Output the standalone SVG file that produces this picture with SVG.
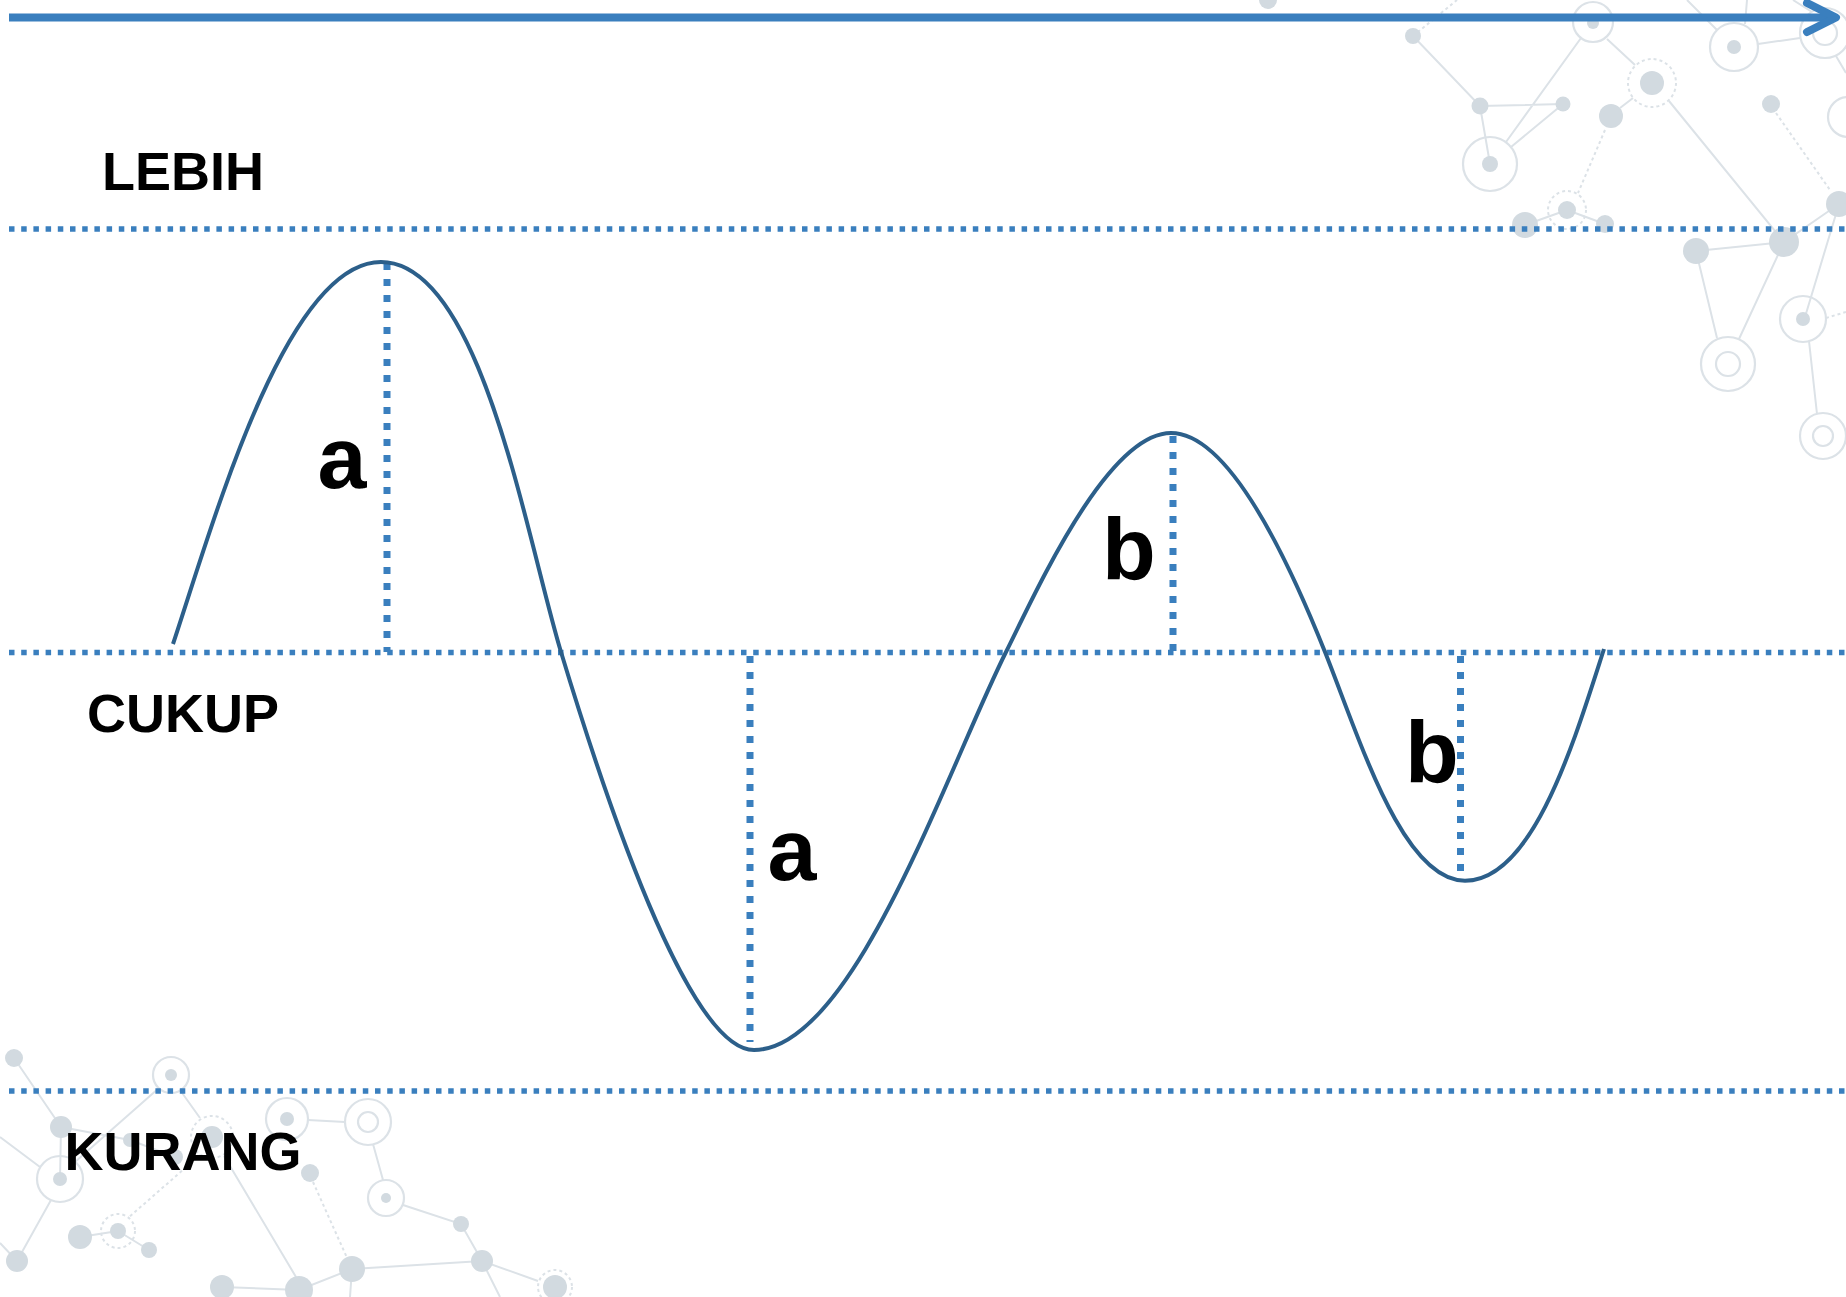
<svg xmlns="http://www.w3.org/2000/svg" width="1846" height="1297" viewBox="0 0 1846 1297">
<style>
.bgl{stroke:#DCE2E7;stroke-width:2;fill:none}
.bgd{stroke:#DCE2E7;stroke-width:2;fill:none;stroke-dasharray:3 3}
.bgf{fill:#D2DAE0}
.bgr{fill:none;stroke:#DCE2E7;stroke-width:2.2}
.bgrd{fill:none;stroke:#DCE2E7;stroke-width:2;stroke-dasharray:3 3}
.hdot{stroke:#3A7FBE;stroke-width:5.5;stroke-dasharray:5.5 6.7;fill:none}
.vdot{stroke:#3A7FBE;stroke-width:7;stroke-dasharray:7 9;fill:none}
.wave{stroke:#2C5F8A;stroke-width:4;fill:none}
.lvl{font-family:"Liberation Sans",Arial,sans-serif;font-weight:bold;font-size:54px;fill:#000;text-anchor:middle}
.mk{font-family:"Liberation Sans",Arial,sans-serif;font-weight:bold;font-size:88px;fill:#000;text-anchor:middle}
.arrow{stroke:#3A7FBE;stroke-width:8;fill:none}
</style>
<defs>
<marker id="chev" markerUnits="userSpaceOnUse" viewBox="0 0 50 50" markerWidth="50" markerHeight="50" refX="40" refY="25" orient="auto">
<path d="M11 10.5 L40 25 L11 39.5" fill="none" stroke="#3A7FBE" stroke-width="8" stroke-linecap="round" stroke-linejoin="round"/>
</marker>
</defs>
<rect width="1846" height="1297" fill="#fff"/>
<g id="background">
<g id="net-top-right">
<path class="bgd" d="M1413 36 L1457 0 M1605 130 L1578 193 M1776 113 L1830 190 M1826 318 L1846 312"/>
<path class="bgl" d="M1413 36 L1480 106 L1563 104 M1480 106 L1490 164 M1563 104 L1511 147 M1506 142 L1581 38 M1607 39 L1635 65 M1633 98 L1620 108 M1567 210 L1525 225 M1567 210 L1605 224 M1669 101 L1784 242 M1758 44 L1800 38 M1839 204 L1784 242 L1696 251 M1836 56 L1846 73 M1696 251 L1717 338 M1784 242 L1739 339 M1839 204 L1805 317 M1809 341 L1817 414 M1687 0 L1717 30 M1747 0 L1745 24 M1793 0 L1812 12"/>
<circle class="bgf" cx="1268" cy="0" r="9"/>
<circle class="bgf" cx="1413" cy="36" r="8"/>
<circle class="bgf" cx="1480" cy="106" r="8.5"/>
<circle class="bgf" cx="1563" cy="104" r="7.5"/>
<circle class="bgf" cx="1611" cy="116" r="12"/>
<circle class="bgf" cx="1525" cy="225" r="13"/>
<circle class="bgf" cx="1605" cy="224" r="9"/>
<circle class="bgf" cx="1771" cy="104" r="9"/>
<circle class="bgf" cx="1839" cy="204" r="13"/>
<circle class="bgf" cx="1784" cy="242" r="15"/>
<circle class="bgf" cx="1696" cy="251" r="13"/>
<circle class="bgr" cx="1490" cy="164" r="27"/><circle class="bgf" cx="1490" cy="164" r="8"/>
<circle class="bgr" cx="1593" cy="22" r="20"/><circle class="bgf" cx="1593" cy="23" r="6"/>
<circle class="bgrd" cx="1652" cy="83" r="24"/><circle class="bgf" cx="1652" cy="83" r="12"/>
<circle class="bgrd" cx="1567" cy="210" r="19"/><circle class="bgf" cx="1567" cy="210" r="9"/>
<circle class="bgr" cx="1734" cy="47" r="24"/><circle class="bgf" cx="1734" cy="47" r="7"/>
<circle class="bgr" cx="1825" cy="33" r="25"/><circle class="bgr" cx="1825" cy="33" r="12"/>
<circle class="bgr" cx="1728" cy="364" r="27"/><circle class="bgr" cx="1728" cy="364" r="12"/>
<circle class="bgr" cx="1803" cy="319" r="23"/><circle class="bgf" cx="1803" cy="319" r="7"/>
<circle class="bgr" cx="1823" cy="436" r="23"/><circle class="bgr" cx="1823" cy="436" r="10"/>
<circle class="bgr" cx="1848" cy="117" r="20"/>
</g>
<g id="net-bottom-left">
<path class="bgd" d="M200 1155 L128 1218 M313 1182 L348 1260"/>
<path class="bgl" d="M14 1058 L61 1127 L60 1179 M0 1137 L40 1167 M51 1200 L17 1261 M0 1243 L17 1261 M75 1162 L159 1088 M61 1127 L130 1140 L175 1157 M180 1090 L200 1118 M224 1156 L296 1277 M118 1231 L80 1237 M118 1231 L149 1250 M308 1120 L345 1122 M373 1144 L383 1180 M403 1205 L461 1224 L482 1261 M352 1269 L482 1261 L538 1281 M482 1261 L500 1297 M352 1269 L299 1290 L222 1287 M299 1290 L296 1297 M352 1269 L350 1297"/>
<circle class="bgf" cx="14" cy="1058" r="9"/>
<circle class="bgf" cx="61" cy="1127" r="11"/>
<circle class="bgf" cx="130" cy="1140" r="7"/>
<circle class="bgf" cx="175" cy="1157" r="8"/>
<circle class="bgf" cx="310" cy="1173" r="9"/>
<circle class="bgf" cx="461" cy="1224" r="8"/>
<circle class="bgf" cx="482" cy="1261" r="11"/>
<circle class="bgf" cx="352" cy="1269" r="13"/>
<circle class="bgf" cx="222" cy="1287" r="12"/>
<circle class="bgf" cx="299" cy="1290" r="14"/>
<circle class="bgf" cx="80" cy="1237" r="12"/>
<circle class="bgf" cx="149" cy="1250" r="8"/>
<circle class="bgf" cx="17" cy="1261" r="11"/>
<circle class="bgr" cx="60" cy="1179" r="23"/><circle class="bgf" cx="60" cy="1179" r="7"/>
<circle class="bgr" cx="171" cy="1075" r="18"/><circle class="bgf" cx="171" cy="1075" r="6"/>
<circle class="bgrd" cx="212" cy="1137" r="21"/><circle class="bgf" cx="212" cy="1137" r="11"/>
<circle class="bgr" cx="287" cy="1119" r="21"/><circle class="bgf" cx="287" cy="1119" r="7"/>
<circle class="bgr" cx="368" cy="1122" r="23"/><circle class="bgr" cx="368" cy="1122" r="10"/>
<circle class="bgr" cx="386" cy="1198" r="18"/><circle class="bgf" cx="386" cy="1198" r="5"/>
<circle class="bgrd" cx="118" cy="1231" r="17"/><circle class="bgf" cx="118" cy="1231" r="8"/>
<circle class="bgrd" cx="555" cy="1287" r="17"/><circle class="bgf" cx="555" cy="1287" r="12"/>
</g>
</g>
<g id="level-lebih">
<line class="hdot" x1="9" y1="229" x2="1846" y2="229"/>
<text class="lvl" x="183" y="190">LEBIH</text>
</g>
<g id="level-cukup">
<line class="hdot" x1="9" y1="652.5" x2="1846" y2="652.5"/>
<text class="lvl" x="183" y="732">CUKUP</text>
</g>
<g id="level-kurang">
<line class="hdot" x1="9" y1="1091" x2="1846" y2="1091"/>
<text class="lvl" x="183" y="1170">KURANG</text>
</g>
<g id="measure-a1">
<line class="vdot" x1="387" y1="263" x2="387" y2="652"/>
<text class="mk" x="342" y="488">a</text>
</g>
<g id="measure-a2">
<line class="vdot" x1="750" y1="656" x2="750" y2="1042"/>
<text class="mk" x="792" y="880">a</text>
</g>
<g id="measure-b1">
<line class="vdot" x1="1173" y1="436" x2="1173" y2="652"/>
<text class="mk" x="1129" y="579">b</text>
</g>
<g id="measure-b2">
<line class="vdot" x1="1460.5" y1="656" x2="1460.5" y2="871"/>
<text class="mk" x="1432" y="782">b</text>
</g>
<g id="wave">
<path class="wave" d="M173 644 C213 524 285.6 262 381 262 C481 262 526 536.5 561 652 C601 784 687 1050 754 1050 C853 1050 946 772 1006 652 C1036 592 1107 433 1171 433 C1227 433 1285 552 1325 652 C1360 739.5 1402.4 880.7 1465 880.7 C1533 880.7 1574 742 1604 649"/>
</g>
<g id="connectors">
<line class="arrow" x1="9" y1="17.5" x2="1836" y2="17.5" marker-end="url(#chev)"/>
</g>
</svg>
